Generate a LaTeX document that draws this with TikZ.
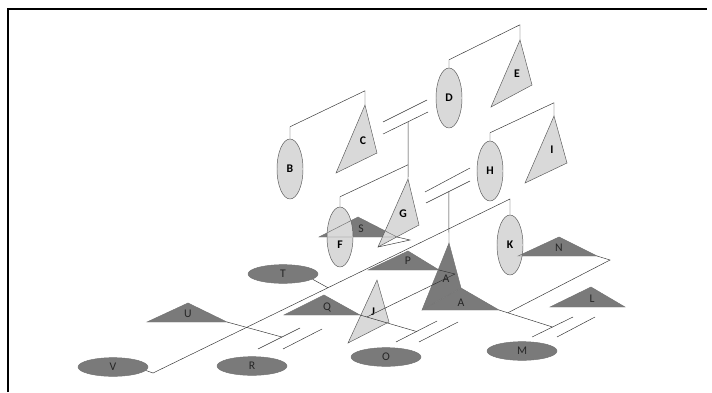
\documentclass[tikz,border=0pt]{standalone}
\usepackage{fontspec}
\setmainfont{Carlito}
\usetikzlibrary{shapes.geometric,calc}
\tikzset{
    % Unaffected ovals (light)
    lightoval/.style={
        ellipse,
        draw=black!65,
        fill=black!15,
        line width=0.4pt,
        minimum width=0.78cm,
        minimum height=1.8cm,
        inner sep=0pt,
        font=\fontsize{10}{12}\selectfont\bfseries
    },
    % Affected ovals (dark, lying flat)
    darkoval/.style={
        ellipse,
        draw=black!55,
        fill=black!52,
        line width=0.4pt,
        minimum width=2.1cm,
        minimum height=0.56cm,
        inner sep=0pt,
        text=black!85,
        font=\fontsize{10}{12}\selectfont
    },
    % Triangles
    lightfill/.style={fill=black!15},
    darkfill/.style={fill=black!52},
    lightedge/.style={draw=black!65, line width=0.4pt},
    darkedge/.style={draw=black!55, line width=0.4pt},
    % Labels on triangles
    lightlabel/.style={
        font=\fontsize{10}{12}\selectfont\bfseries,
        inner sep=0pt
    },
    darklabel/.style={
        font=\fontsize{10}{12}\selectfont,
        text=black!85,
        inner sep=0pt
    },
    % Connecting lines
    link/.style={
        draw=black!80,
        line width=0.4pt
    }
}

\begin{document}
\begin{tikzpicture}[x=0.03cm, y=-0.03cm]
\useasboundingbox (0,0) rectangle (712,392);

% ==================== FRAME ====================
\draw[line width=2.4pt] (8,392) -- (8,9) -- (707,9);

% ==================== TRIANGLE CORNERS ====================
\coordinate (C1) at (365,105); \coordinate (C2) at (377,153); \coordinate (C3) at (336,173);
\coordinate (E1) at (520,40);  \coordinate (E2) at (532,85);  \coordinate (E3) at (491,107);
\coordinate (G1) at (408,179); \coordinate (G2) at (419,225); \coordinate (G3) at (378,247);
\coordinate (I1) at (554,116); \coordinate (I2) at (567,163); \coordinate (I3) at (525,183);
\coordinate (J1) at (377,280); \coordinate (J2) at (389,322); \coordinate (J3) at (348,343);
\coordinate (S1) at (358,217); \coordinate (S2) at (319,237); \coordinate (S3) at (397,237);
\coordinate (P1) at (408,251); \coordinate (P2) at (368,270); \coordinate (P3) at (439,270);
\coordinate (Q1) at (324,295); \coordinate (Q2) at (284,315); \coordinate (Q3) at (360,315);
\coordinate (U1) at (188,303); \coordinate (U2) at (147,322); \coordinate (U3) at (227,322);
\coordinate (N1) at (559,237); \coordinate (N2) at (518,256); \coordinate (N3) at (597,256);
\coordinate (L1) at (591,287); \coordinate (L2) at (550,307); \coordinate (L3) at (625,307);
\coordinate (Aa) at (449,243); \coordinate (Ab) at (461,288); \coordinate (Ac) at (422,310);
\coordinate (Ad) at (499,310);

% ==================== DARK FILLS ====================
\fill[darkfill] (S1) -- (S2) -- (S3) -- cycle;
\fill[darkfill] (P1) -- (P2) -- (P3) -- cycle;
\fill[darkfill] (Q1) -- (Q2) -- (Q3) -- cycle;
\fill[darkfill] (U1) -- (U2) -- (U3) -- cycle;
\fill[darkfill] (N1) -- (N2) -- (N3) -- cycle;
\fill[darkfill] (L1) -- (L2) -- (L3) -- cycle;
\fill[darkfill] (Aa) -- (Ab) -- (Ac) -- cycle;
\fill[darkfill] (Ab) -- (Ad) -- (Ac) -- cycle;

\node[darkoval] (T) at (283,274) {T};
\node[darkoval] (V) at (113,367) {V};
\node[darkoval] (R) at (252,366) {R};
\node[darkoval] (O) at (386,357) {O};
\node[darkoval] (M) at (522,351) {M};

% ==================== LIGHT SHAPES ====================
\node[lightoval] (B) at (290,169) {B};
\node[lightoval] (D) at (449,98) {D};
\node[lightoval] (F) at (340,237) {};
\node[lightoval] (H) at (490,171) {H};
\node[lightoval] (K) at (510,245) {K};

\filldraw[lightfill, lightedge] (C1) -- (C2) -- (C3) -- cycle;
\filldraw[lightfill, lightedge] (E1) -- (E2) -- (E3) -- cycle;
\filldraw[lightfill, lightedge] (G1) -- (G2) -- (G3) -- cycle;
\filldraw[lightfill, lightedge] (I1) -- (I2) -- (I3) -- cycle;
\filldraw[lightfill, lightedge] (J1) -- (J2) -- (J3) -- cycle;

% dark edges stay visible through the light shapes
\draw[darkedge] (S1) -- (S2) -- (S3) -- cycle;
\draw[darkedge] (P1) -- (P2) -- (P3) -- cycle;
\draw[darkedge] (Q1) -- (Q2) -- (Q3) -- cycle;
\draw[darkedge] (U1) -- (U2) -- (U3) -- cycle;
\draw[darkedge] (N1) -- (N2) -- (N3) -- cycle;
\draw[darkedge] (L1) -- (L2) -- (L3) -- cycle;
\draw[darkedge] (Aa) -- (Ab) -- (Ac) -- cycle;
\draw[darkedge] (Ab) -- (Ad) -- (Ac);

% ==================== LABELS ====================
\node[lightlabel] (labC) at (363,141) {C};
\node[lightlabel] (labE) at (517,74) {E};
\node[lightlabel] (labF) at (340,245) {F};
\node[lightlabel] (labG) at (403,214) {G};
\node[lightlabel] (labI) at (552,150) {I};
\node[lightlabel] (labJ) at (373,312) {J};
\node[darklabel] (labS) at (361,229) {S};
\node[darklabel] (labP) at (408,261) {P};
\node[darklabel] (labQ) at (327,307) {Q};
\node[darklabel] (labU) at (188,314) {U};
\node[darklabel] (labN) at (559,248) {N};
\node[darklabel] (labL) at (592,299) {L};
\node[darklabel] (labA1) at (446,279) {A};
\node[darklabel] (labA2) at (461,303) {A};

% ==================== MARRIAGE LINES ====================
\coordinate (cd1) at (383,122); \coordinate (cd2) at (427,100);
\coordinate (cd3) at (383,134); \coordinate (cd4) at (428,112);
\coordinate (gh1) at (425,192); \coordinate (gh2) at (470,168);
\coordinate (gh3) at (426,203); \coordinate (gh4) at (470,181);
\coordinate (ra1) at (258,349); \coordinate (ra2) at (300,328);
\coordinate (ra3) at (283,349); \coordinate (ra4) at (322,329);
\coordinate (oc1) at (396,342); \coordinate (oc2) at (437,321);
\coordinate (oc3) at (419,342); \coordinate (oc4) at (458,322);
\coordinate (me1) at (532,337); \coordinate (me2) at (573,317);
\coordinate (me3) at (557,337); \coordinate (me4) at (595,317);

\draw[link] (cd1) -- (cd2);  \draw[link] (cd3) -- (cd4);
\draw[link] (gh1) -- (gh2);  \draw[link] (gh3) -- (gh4);
\draw[link] (ra1) -- (ra2);  \draw[link] (ra3) -- (ra4);
\draw[link] (oc1) -- (oc2);  \draw[link] (oc3) -- (oc4);
\draw[link] (me1) -- (me2);  \draw[link] (me3) -- (me4);

% ==================== CONNECTORS ====================
% top generation
\draw[link] (B.north) -- ++(0,-12) -- ++(75,-36) -- (C1);
\draw[link] (D.north) -- ++(0,-8) -- ++(71,-35) -- (E1);
\draw[link] (H.north) -- ++(0,-8) -- ++(64,-30) -- (I1);

% descent to G and F
\coordinate (cdmid) at ($(cd3)!0.56!(cd4)$);
\draw[link] (cdmid) -- (G1);
\draw[link] (F.north) -- ++(0,-10) -- ++(68,-32);

% descent to the twins
\coordinate (ghmid) at ($(gh3)!0.52!(gh4)$);
\draw[link] (ghmid) -- (Aa);

% S beside G
\draw[link] (S3) -- ++(13,3) -- (G3);

% long line from V to K
\draw[link] (V.-6) -- (153,373) coordinate (vk1) -- (510,199) coordinate (vk2) -- (K.north);
\draw[link] (T.-10) -- ($(vk1)!0.49!(vk2)$);

% side lines to the marriages
\draw[link] (U3) -- ($(ra1)!0.57!(ra2)$);
\coordinate (qend) at ($(oc1)!0.5!(oc2)$);
\draw[link] (Q3) -- (qend);
\coordinate (meend) at ($(me1)!0.5!(me2)$);
\draw[link] (Ad) -- (meend);

% P and Q lines meeting in the twins
\coordinate (pa) at (455,274);
\draw[link] (P3) -- (pa);
\draw[link] ($(Q3)!0.12!(qend)$) -- (pa);

% N down to the twins' line
\draw[link] (N3) -- ++(13,4) -- ($(Ad)!0.165!(meend)$);

\end{tikzpicture}
\end{document}
